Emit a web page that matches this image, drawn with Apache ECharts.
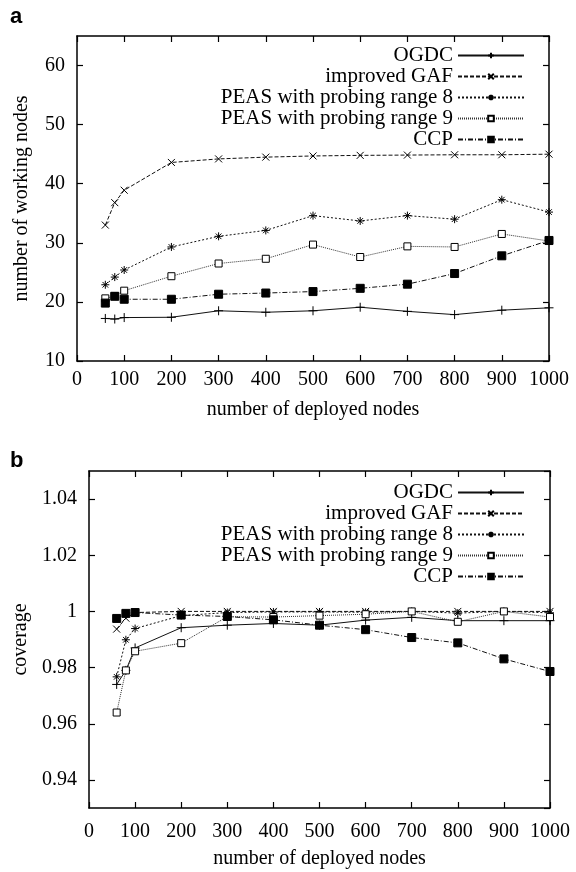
<!DOCTYPE html>
<html>
<head>
<meta charset="utf-8">
<script src="https://cdn.jsdelivr.net/npm/echarts@6/dist/echarts.min.js"></script>
<style>
html,body{margin:0;padding:0;background:#fff;}
#c{width:576px;height:872px;}
</style>
</head>
<body>
<div id="c"></div>
<script>
// ---- data ----
var nodes = [60, 80, 100, 200, 300, 400, 500, 600, 700, 800, 900, 1000];
var seriesNames = ['OGDC', 'improved GAF', 'PEAS with probing range 8', 'PEAS with probing range 9', 'CCP'];

// panel a: number of working nodes
var workOGDC  = [17.2, 17.1, 17.35, 17.4, 18.5, 18.25, 18.5, 19.1, 18.4, 17.85, 18.6, 19.0];
var workGAF   = [33.0, 36.8, 38.9, 43.6, 44.2, 44.5, 44.7, 44.8, 44.85, 44.9, 44.9, 45.0];
var workPEAS8 = [22.9, 24.2, 25.4, 29.3, 31.1, 32.1, 34.6, 33.7, 34.6, 34.0, 37.3, 35.2];
var workPEAS9 = [20.6, 21.0, 21.9, 24.35, 26.5, 27.3, 29.7, 27.6, 29.4, 29.3, 31.5, 30.3];
var workCCP   = [19.8, 20.95, 20.45, 20.45, 21.3, 21.5, 21.75, 22.3, 23.0, 24.8, 27.8, 30.4];

// panel b: coverage
var covOGDC  = [0.974, 0.979, 0.987, 0.9942, 0.9951, 0.9957, 0.9951, 0.9969, 0.9979, 0.9967, 0.9967, 0.9967];
var covGAF   = [0.9937, 0.9976, 0.9996, 1.0, 1.0, 1.0, 1.0, 1.0, 1.0, 1.0, 1.0, 1.0];
var covPEAS8 = [0.9767, 0.9899, 0.9939, 0.9985, 0.9996, 0.9998, 0.9998, 0.9997, 1.0, 0.9994, 1.0, 0.9995];
var covPEAS9 = [0.964, 0.979, 0.9858, 0.9887, 0.9981, 0.998, 0.9985, 0.999, 1.0, 0.9963, 1.0, 0.998];
var covCCP   = [0.9975, 0.9993, 0.9996, 0.9987, 0.9982, 0.997, 0.9951, 0.9935, 0.9907, 0.9888, 0.9831, 0.9786];

// ---- styles ----
var FONT = 'Liberation Serif';
var styles = [
  {symbol: 'path://M0,5L10,5M5,0L5,10', size: 9, dash: 'solid', fill: '#000', lineColor: '#111'},
  {symbol: 'path://M0,0L10,10M10,0L0,10', size: 7, dash: [4, 2], fill: '#000', lineColor: '#111'},
  {symbol: 'path://M0,5L10,5M5,0L5,10M1.5,1.5L8.5,8.5M8.5,1.5L1.5,8.5', size: 8, dash: [2, 2], fill: '#000', lineColor: '#111'},
  {symbol: 'rect', size: 7, dash: [1, 1], fill: '#fff', lineColor: '#333'},
  {symbol: 'rect', size: 8, dash: [5, 2, 1, 2], fill: '#000', lineColor: '#111'}
];

function pairs(xs, ys) { return xs.map(function (x, i) { return [x, ys[i]]; }); }

function mkSeries(idx, vals, gi) {
  var s = styles[idx];
  return {
    type: 'line', name: seriesNames[idx], xAxisIndex: gi * 2, yAxisIndex: gi * 2,
    data: pairs(nodes, vals),
    symbol: s.symbol, symbolSize: s.size, showSymbol: true,
    lineStyle: {color: s.lineColor, width: 1, type: s.dash},
    itemStyle: {color: s.fill, borderColor: '#000', borderWidth: 1},
    emphasis: {disabled: true}, animation: false, z: 3 + idx
  };
}

function xAx(gi, bottomMargin, nameGap) {
  return [
    {gridIndex: gi, type: 'value', min: 0, max: 1000, interval: 100, position: 'bottom',
     name: 'number of deployed nodes', nameLocation: 'middle', nameGap: nameGap,
     nameTextStyle: {fontFamily: FONT, fontSize: 20, color: '#000'},
     axisLine: {show: true, onZero: false, lineStyle: {color: '#000', width: 1.5}},
     axisTick: {show: true, inside: true, length: 6, lineStyle: {color: '#000', width: 1.2}},
     axisLabel: {fontFamily: FONT, fontSize: 20, color: '#000', margin: bottomMargin,
                 formatter: function (v) { return String(v); }},
     splitLine: {show: false}},
    {gridIndex: gi, type: 'value', min: 0, max: 1000, interval: 100, position: 'top',
     axisLine: {show: true, onZero: false, lineStyle: {color: '#000', width: 1.5}},
     axisTick: {show: true, inside: true, length: 6, lineStyle: {color: '#000', width: 1.2}},
     axisLabel: {show: false}, splitLine: {show: false}}
  ];
}

function yAx(gi, cfg) {
  var common = {gridIndex: gi, type: 'value', min: cfg.min, max: cfg.max, splitLine: {show: false}};
  if (cfg.interval) common.interval = cfg.interval; else common.splitNumber = cfg.splitNumber;
  var left = Object.assign({}, common, {
    position: 'left', name: cfg.name, nameLocation: 'middle', nameGap: cfg.nameGap,
    nameTextStyle: {fontFamily: FONT, fontSize: 20, color: '#000'},
    axisLine: {show: true, onZero: false, lineStyle: {color: '#000', width: 1.5}},
    axisTick: {show: true, inside: true, length: 6, lineStyle: {color: '#000', width: 1.2}},
    axisLabel: {fontFamily: FONT, fontSize: 20, color: '#000', margin: 12,
                showMinLabel: cfg.showMin, showMaxLabel: false,
                formatter: function (v) { return String(+v.toFixed(2)); }}
  });
  var right = Object.assign({}, common, {
    position: 'right',
    axisLine: {show: true, onZero: false, lineStyle: {color: '#000', width: 1.5}},
    axisTick: {show: true, inside: true, length: 6, lineStyle: {color: '#000', width: 1.2}},
    axisLabel: {show: false}
  });
  return [left, right];
}

var chart = echarts.init(document.getElementById('c'), null, {renderer: 'canvas'});

var legendCommon = {
  orient: 'vertical', align: 'right', right: 46, itemWidth: 66, itemHeight: 7, itemGap: 0,
  textStyle: {fontFamily: FONT, fontSize: 21, lineHeight: 21, color: '#000'},
  selectedMode: false, data: seriesNames
};

var series = [];
[workOGDC, workGAF, workPEAS8, workPEAS9, workCCP].forEach(function (v, i) { series.push(mkSeries(i, v, 0)); });
[covOGDC, covGAF, covPEAS8, covPEAS9, covCCP].forEach(function (v, i) { series.push(mkSeries(i, v, 1)); });

var option = {
  backgroundColor: '#fff',
  animation: false,
  grid: [
    {left: 77, right: 27, top: 36, height: 325},
    {left: 89, right: 26, top: 471, height: 337}
  ],
  xAxis: xAx(0, 9, 39).concat(xAx(1, 14, 41)),
  yAxis: yAx(0, {min: 10, max: 65, interval: 10, name: 'number of working nodes', nameGap: 45, showMin: true})
    .concat(yAx(1, {min: 0.93, max: 1.05, splitNumber: 6, name: 'coverage', nameGap: 57, showMin: false})),
  legend: [
    Object.assign({}, legendCommon, {top: 40}),
    Object.assign({}, legendCommon, {top: 477})
  ],
  graphic: [
    {type: 'text', left: 10, top: 6, style: {text: 'a', fontFamily: 'Liberation Sans', fontWeight: 'bold', fontSize: 22, fill: '#000'}},
    {type: 'text', left: 10, top: 450, style: {text: 'b', fontFamily: 'Liberation Sans', fontWeight: 'bold', fontSize: 22, fill: '#000'}}
  ],
  series: series
};
chart.setOption(option);
</script>
</body>
</html>
